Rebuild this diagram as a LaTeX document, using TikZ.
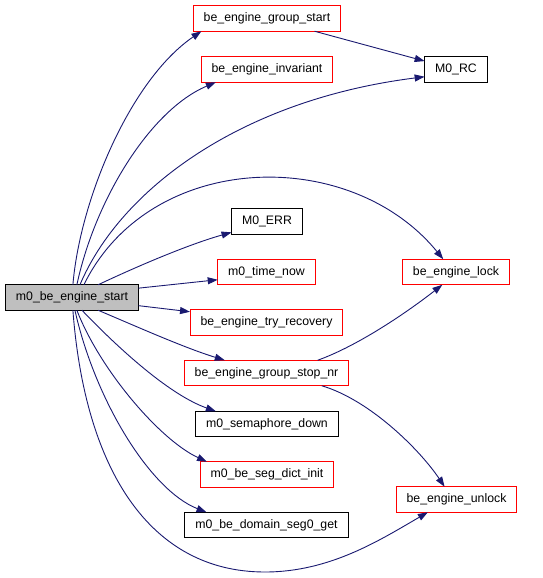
\documentclass[tikz,border=0pt]{standalone}
\usepackage{fontspec}
\setmainfont{Liberation Sans}
\usetikzlibrary{arrows.meta}
\definecolor{midnight}{RGB}{25,25,112}
\begin{document}
\begin{tikzpicture}[x=1pt,y=-1pt,
    fn/.style={draw=black,fill=white,line width=1pt,minimum height=25.5pt,inner xsep=10.5pt,inner ysep=0pt,outer sep=0pt,font=\fontsize{12.3}{14}\selectfont},
    fnred/.style={fn,draw=red},
    fnroot/.style={fn,fill=black!25},
    call/.style={draw=midnight,line width=0.9pt,-{Triangle[length=10pt,width=7pt]}}]
            \useasboundingbox (0,0) rectangle (543,578);
            \node[fnred] (GS) at (267,18.5) {be\_engine\_group\_start};
            \node[fnred] (INV) at (267,69.5) {be\_engine\_invariant};
            \node[fn] (RC) at (456,69.5) {M0\_RC};
            \node[fn] (ERR) at (267,221.5) {M0\_ERR};
            \node[fnred] (TN) at (266.5,272) {m0\_time\_now};
            \node[fnred] (EL) at (456,272) {be\_engine\_lock};
            \node[fnroot] (M) at (72,297.5) {m0\_be\_engine\_start};
            \node[fnred] (TR) at (266.5,322.5) {be\_engine\_try\_recovery};
            \node[fnred] (GSN) at (266.5,373) {be\_engine\_group\_stop\_nr};
            \node[fn] (SD) at (267,424) {m0\_semaphore\_down};
            \node[fnred] (SDI) at (267,474.5) {m0\_be\_seg\_dict\_init};
            \node[fnred] (EU) at (456.5,499.5) {be\_engine\_unlock};
            \node[fn] (DSG) at (266.5,525) {m0\_be\_domain\_seg0\_get};
            
            \coordinate (BOT) at (265,572);
            
            \draw[call] (M.86) .. controls (80,200) and (130,80) .. (GS.-169);
            \draw[call] (M.69) .. controls (95,200) and (150,110) .. (INV.-166);
            \draw[call] (M.58) .. controls (120,190) and (240,100) .. (RC.-167);
            \draw[call] (M.47) .. controls (150,150) and (350,145) .. (EL.135);
            \draw[call] (M.26) .. controls (140,265) and (190,244) .. (ERR.-163);
            \draw[call] (M.8) -- (TN.-171);
            \draw[call] (M.-7) -- (TR.172);
            \draw[call] (M.-26) .. controls (140,328) and (185,348) .. (GSN.163);
            \draw[call] (M.-52) .. controls (120,350) and (170,395) .. (SD.166);
            \draw[call] (M.-69) .. controls (100,370) and (160,440) .. (SDI.168);
            \draw[call] (M.-77) .. controls (95,400) and (150,490) .. (DSG.168);
            \draw[call] (M.-86) .. controls (85,470) and (150,572) .. (BOT) .. controls (330,572) and (380,540) .. (EU.-156);
            \draw[call] (GS.-15) -- (RC.165);
            \draw[call] (GSN.14) .. controls (360,345) and (410,310) .. (EL.-137);
            \draw[call] (GSN.-13) .. controls (370,400) and (420,450) .. (EU.133);
          \end{tikzpicture}
\end{document}
